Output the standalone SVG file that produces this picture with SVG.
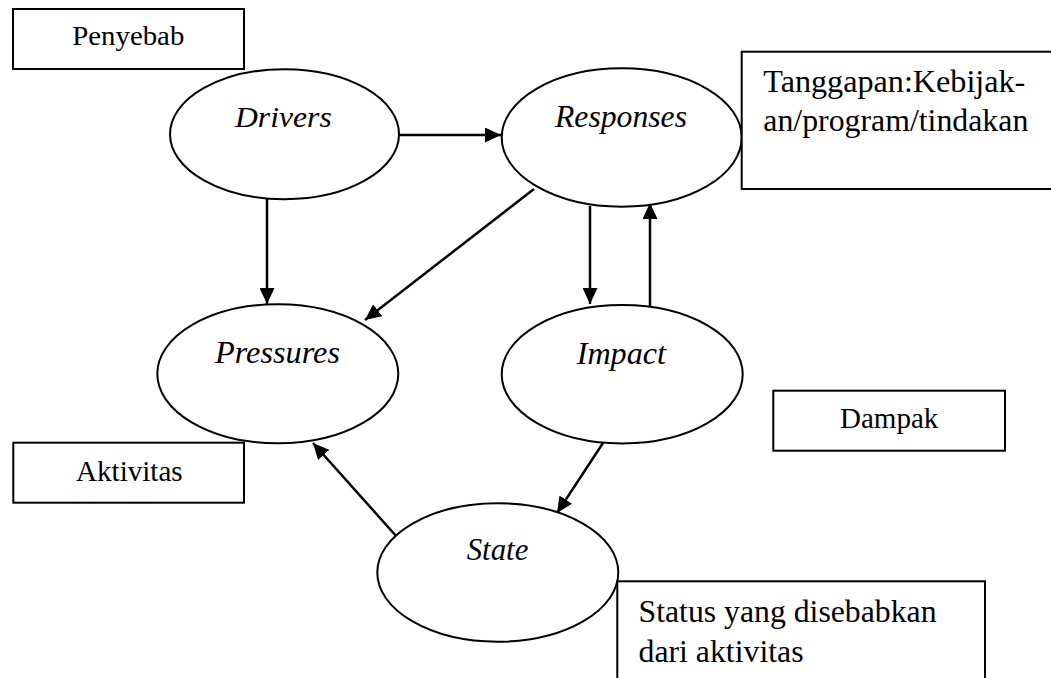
<svg xmlns="http://www.w3.org/2000/svg" width="1051" height="678" viewBox="0 0 1051 678">
  <style>
    .shape { fill: #ffffff; stroke: #000000; stroke-width: 2; }
    .lbl { font-family: "Liberation Serif", "Times New Roman", serif; fill: #000000; }
    .it { font-style: italic; }
    .conn { stroke: #000000; stroke-width: 2.5; fill: none; marker-end: url(#arrow); }
  </style>
  <defs>
    <marker id="arrow" markerUnits="userSpaceOnUse" markerWidth="17" markerHeight="15" refX="16" refY="7.5" orient="auto">
      <path d="M0,0 L16,7.5 L0,15 z" fill="#000000"/>
    </marker>
  </defs>
  <rect width="1051" height="678" fill="#ffffff"/>

  <g id="connectors">
    <line class="conn" x1="399" y1="135" x2="501" y2="135"/>
    <line class="conn" x1="267" y1="199" x2="267" y2="304"/>
    <line class="conn" x1="534" y1="189" x2="365" y2="320"/>
    <line class="conn" x1="590" y1="206" x2="590" y2="304"/>
    <line class="conn" x1="650" y1="306" x2="650" y2="203"/>
    <line class="conn" x1="603" y1="443" x2="557" y2="513"/>
    <line class="conn" x1="397" y1="537" x2="313" y2="443"/>
  </g>

  <g id="label-penyebab">
    <rect class="shape" x="13" y="9" width="231" height="60"/>
    <text class="lbl" x="72.3" y="45" font-size="28" textLength="112" lengthAdjust="spacingAndGlyphs">Penyebab</text>
  </g>

  <g id="node-drivers">
    <ellipse class="shape" cx="284.5" cy="134.2" rx="114.5" ry="65"/>
    <text class="lbl it" x="235" y="126.7" font-size="30" textLength="96.7" lengthAdjust="spacingAndGlyphs">Drivers</text>
  </g>

  <g id="node-responses">
    <ellipse class="shape" cx="621.7" cy="137.5" rx="120" ry="69.2"/>
    <text class="lbl it" x="555" y="127.3" font-size="31" textLength="132" lengthAdjust="spacingAndGlyphs">Responses</text>
  </g>

  <g id="label-tanggapan">
    <rect class="shape" x="741.7" y="51.7" width="320" height="137.3"/>
    <text class="lbl" x="763.3" y="91.7" font-size="32" textLength="262" lengthAdjust="spacingAndGlyphs">Tanggapan:Kebijak-</text>
    <text class="lbl" x="763.3" y="130.7" font-size="32" textLength="265" lengthAdjust="spacingAndGlyphs">an/program/tindakan</text>
  </g>

  <g id="node-pressures">
    <ellipse class="shape" cx="277.8" cy="373.8" rx="120.5" ry="69.5"/>
    <text class="lbl it" x="215" y="363.3" font-size="31" textLength="125" lengthAdjust="spacingAndGlyphs">Pressures</text>
  </g>

  <g id="node-impact">
    <ellipse class="shape" cx="622.2" cy="374.2" rx="120.5" ry="69.2"/>
    <text class="lbl it" x="576.7" y="364" font-size="31" textLength="89.3" lengthAdjust="spacingAndGlyphs">Impact</text>
  </g>

  <g id="label-aktivitas">
    <rect class="shape" x="13.3" y="442.7" width="230.7" height="60"/>
    <text class="lbl" x="76" y="480.7" font-size="29" textLength="106.7" lengthAdjust="spacingAndGlyphs">Aktivitas</text>
  </g>

  <g id="label-dampak">
    <rect class="shape" x="773.3" y="390.7" width="231.7" height="60"/>
    <text class="lbl" x="840" y="428.3" font-size="29" textLength="98.3" lengthAdjust="spacingAndGlyphs">Dampak</text>
  </g>

  <g id="node-state">
    <ellipse class="shape" cx="497.8" cy="572.5" rx="120.5" ry="69.2"/>
    <text class="lbl it" x="466.7" y="560" font-size="31" textLength="61.7" lengthAdjust="spacingAndGlyphs">State</text>
  </g>

  <g id="label-status">
    <rect class="shape" x="617.3" y="581.3" width="367.7" height="110"/>
    <text class="lbl" x="638.5" y="621.7" font-size="32" textLength="298" lengthAdjust="spacingAndGlyphs">Status yang disebabkan</text>
    <text class="lbl" x="638.5" y="661.7" font-size="32" textLength="165" lengthAdjust="spacingAndGlyphs">dari aktivitas</text>
  </g>
</svg>
